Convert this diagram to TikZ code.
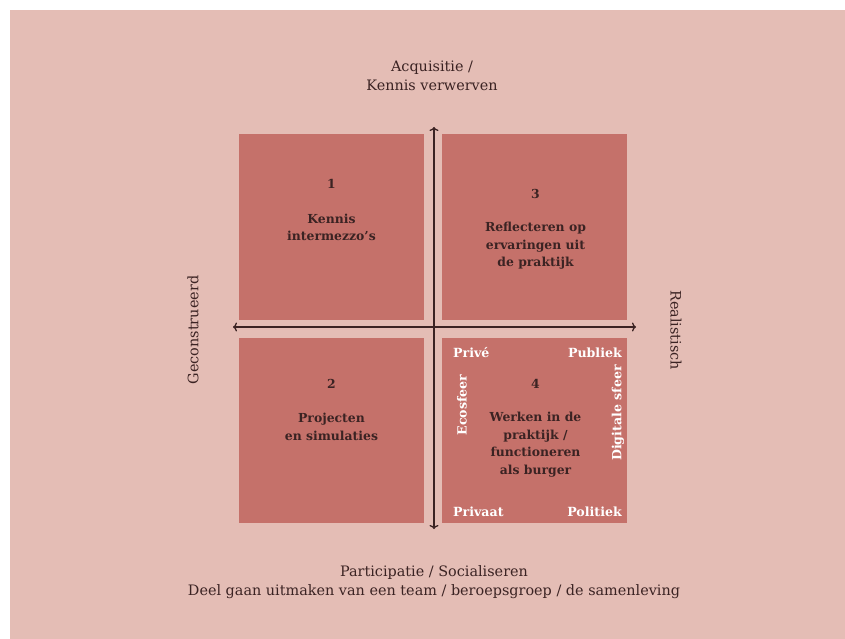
\documentclass[tikz,border=0pt]{standalone}
\usepackage{fontspec}
\setmainfont{DejaVu Serif}
\usetikzlibrary{arrows.meta,positioning}
\definecolor{bgpink}{HTML}{E4BDB5}
\definecolor{quadred}{HTML}{C5716A}
\definecolor{inkbrown}{HTML}{3B2323}
\tikzstyle{line} = [draw, {To[length=4pt,width=9pt]}-{To[length=4pt,width=9pt]}, inkbrown, line width=1.3pt]
\tikzstyle{quad} = [rectangle, fill=quadred, minimum width=185pt, minimum height=185pt, inner sep=0pt]
\tikzstyle{axislabel} = [text=inkbrown, font=\fontsize{14.4}{19}\selectfont, align=center]
\tikzstyle{quadnum} = [text=inkbrown, font=\bfseries\fontsize{12.4}{14}\selectfont]
\tikzstyle{quadtext} = [text=inkbrown, font=\bfseries\fontsize{12.4}{17.5}\selectfont, align=center]
\tikzstyle{corner} = [text=white, font=\bfseries\fontsize{12.6}{14}\selectfont, inner sep=0pt]

\begin{document}
\begin{tikzpicture}[x=1pt, y=-1pt]
		% background
		\path[fill=white] (0,0) rectangle (845,639);
		\path[fill=bgpink] (10,10) rectangle (845,639);
		\useasboundingbox (0,0) rectangle (845,639);
		
		\node[quad] (q1) at (331.5,227) {};
		\node[quad, right=18pt of q1] (q3) {};
		\node[quad, below=18pt of q1] (q2) {};
		\node[quad, below=18pt of q3] (q4) {};
		
		\coordinate (top) at (434,127);
		\coordinate (bottom) at (434,529);
		\coordinate (left) at (233,327);
		\coordinate (right) at (636,327);
		\path [line] (top) to (bottom);
		\path [line] (left) to (right);
		
		\node [axislabel] (acq) at (432,76) {Acquisitie /\\Kennis verwerven};
		\node [axislabel] (part) at (434,582) {Participatie / Socialiseren\\Deel gaan uitmaken van een team / beroepsgroep / de samenleving};
		\node [axislabel, rotate=90] (geco) at (193,330) {Geconstrueerd};
		\node [axislabel, rotate=-90] (real) at (676,330) {Realistisch};
		
		
		\node [quadnum] (n1) at (331.5,184) {1};
		\node [quadtext] (t1) at (331.5,227.5) {Kennis\\intermezzo's};
		
		\node [quadnum] (n3) at (535.5,194) {3};
		\node [quadtext] (t3) at (535.5,246) {Reflecteren op\\ervaringen uit\\de praktijk};
		
		\node [quadnum] (n2) at (331.5,384) {2};
		\node [quadtext] (t2) at (331.5,427) {Projecten\\en simulaties};
		
		\node [quadnum] (n4) at (535.5,384) {4};
		\node [quadtext] (t4) at (535.5,444.5) {Werken in de\\praktijk /\\functioneren\\als burger};
		
		
		\node [corner, anchor=west] (prive) at (453,353) {Privé};
		\node [corner, anchor=east] (publiek) at (622,353) {Publiek};
		\node [corner, anchor=west] (privaat) at (453,512) {Privaat};
		\node [corner, anchor=east] (politiek) at (622,512) {Politiek};
		\node [corner, rotate=90] (eco) at (462,405) {Ecosfeer};
		\node [corner, rotate=90] (digi) at (618,413) {Digitale sfeer};
\end{tikzpicture}
\end{document}
